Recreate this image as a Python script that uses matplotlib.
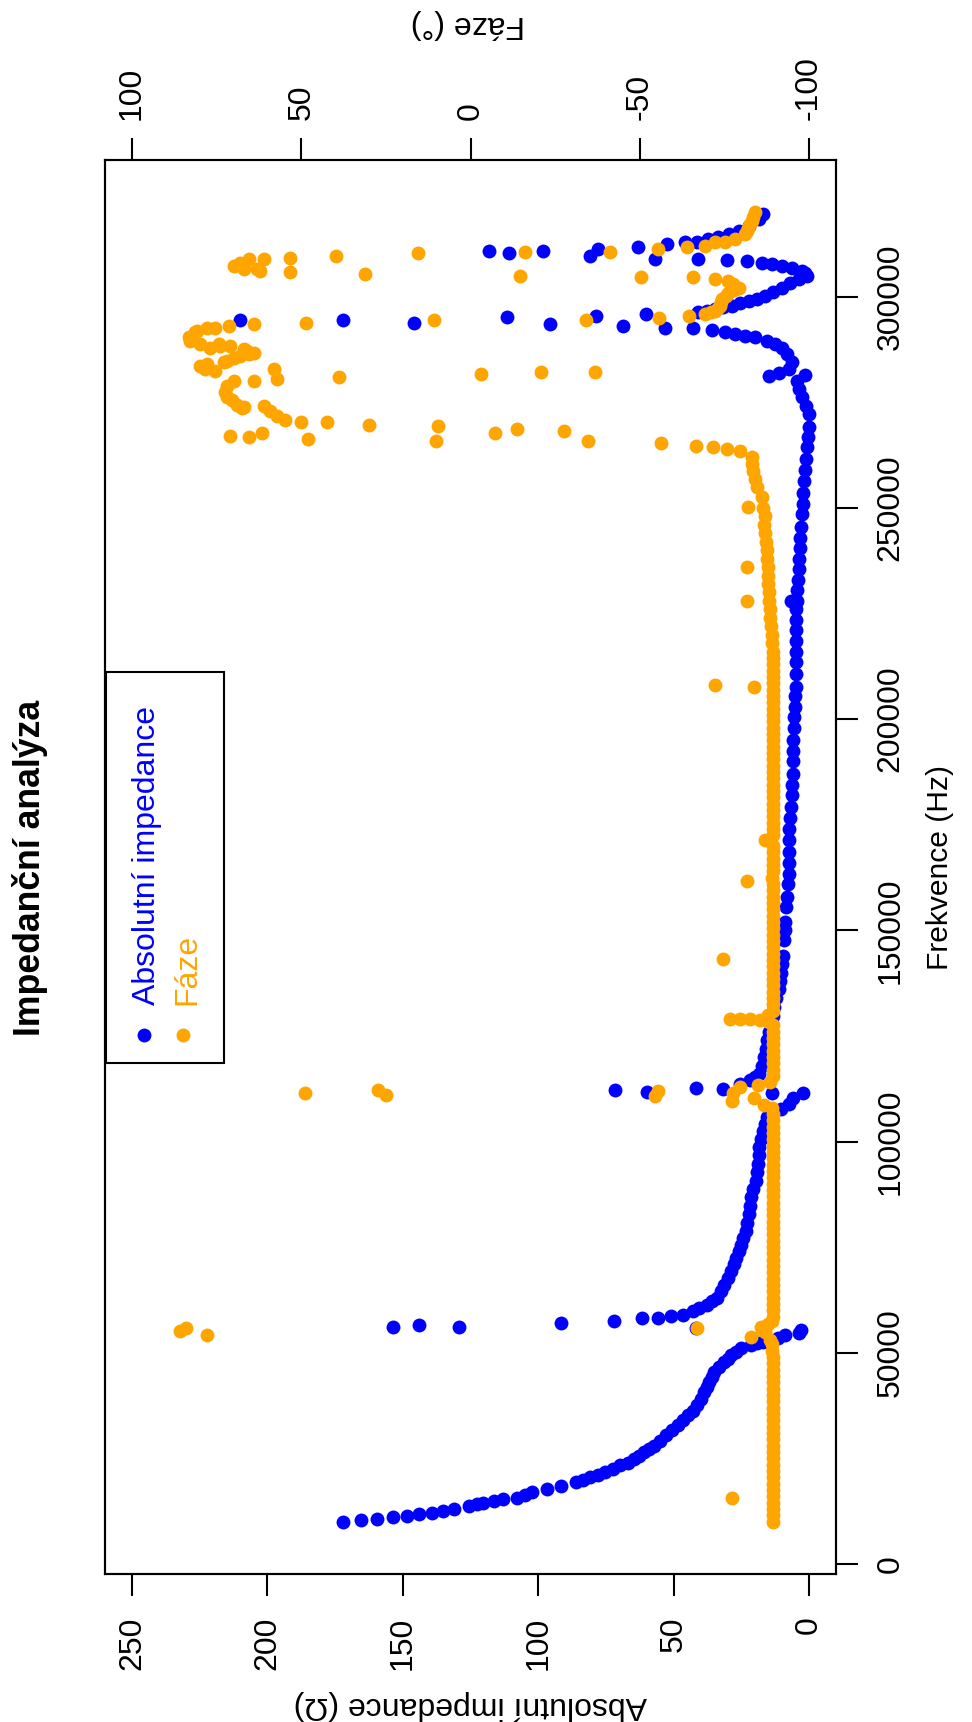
import matplotlib
matplotlib.use("Agg")
import matplotlib.pyplot as plt
from matplotlib.patches import Rectangle
from matplotlib.lines import Line2D

plt.rcParams['font.family'] = ['Liberation Sans', 'DejaVu Sans']

# Absolutní impedance: frekvence (Hz) a hodnota (Ohm)
freq_abs = [
    10000, 10400, 10700, 11000, 11350, 11750, 12150, 12600, 13000, 13600,
    14100, 14500, 15000, 15300, 15700, 16300, 16900, 17700, 18500, 19300,
    19900, 20500, 21100, 21700, 22500, 23300, 24000, 24800, 25600, 26400,
    27200, 28000, 29200, 30400, 31600, 32800, 34000, 35200, 36300, 37500,
    39000, 40700, 41900, 43100, 44300, 45500, 46700, 47900, 48600, 49400,
    50200, 51000, 51800, 52300, 52600, 53000, 53500, 54200, 54600, 55300,
    55800, 56200, 56600, 56200, 57100, 57600, 58200, 58300, 58600, 59000,
    59800, 60500, 61400, 62200, 62900, 64500, 66100, 67700, 69300, 71000,
    72500, 74000, 75600, 77200, 78800, 80800, 82800, 84800, 86800, 88800,
    90700, 92700, 94700, 96700, 98700, 100700, 102600, 104200, 105800, 107000,
    107800, 109000, 110200, 111400, 111400, 112100, 111700, 112700, 112500, 113700,
    114500, 115300, 116100, 118000, 120000, 122000, 124000, 126000, 128000, 129700,
    131900, 134000, 136000, 138000, 139800, 142000, 144000, 147600, 150000, 152000,
    155500, 158000, 161000, 163400, 166000, 168500, 171300, 174000, 176500, 179200,
    182000, 184500, 187100, 190000, 192500, 195000, 198000, 200500, 202800, 205500,
    207600, 210700, 213500, 216000, 218600, 221000, 223500, 226000, 228100, 228100,
    230500, 233000, 235500, 238000, 240500, 243000, 245400, 248600, 251000, 253500,
    256500, 259000, 261500, 264400, 266800, 269100, 272300, 274200, 276200, 278200,
    280100, 281600, 281300, 281900, 282900, 284500, 286500, 288000, 288800, 289600,
    290400, 290800, 291200, 291600, 292100, 292700, 292700, 293100, 293500, 293900,
    294500, 294500, 295200, 295500, 295900, 296300, 296700, 297100, 297500, 297900,
    298500, 299100, 299600, 300200, 301200, 302200, 303200, 304200, 305000, 305600,
    306200, 306800, 307300, 307700, 308100, 308500, 308800, 308900, 308900, 309700,
    310300, 310900, 310900, 311300, 311700, 312500, 312900, 313000, 313700, 314200,
    314800, 315600, 316800, 318400, 319600,
]
abs_imp = [
    172.0, 165.5, 159.6, 153.7, 148.3, 144.0, 139.3, 135.0, 131.0, 125.5,
    122.5, 120.2, 116.5, 113.0, 108.0, 105.0, 102.2, 96.8, 91.5, 86.1,
    83.4, 80.7, 78.0, 75.3, 72.5, 69.9, 67.0, 64.6, 62.8, 61.0,
    59.2, 57.4, 55.0, 52.9, 50.6, 48.4, 46.6, 44.8, 43.0, 41.2,
    40.0, 38.6, 37.7, 36.8, 35.9, 35.0, 33.2, 31.4, 30.0, 28.7,
    27.0, 25.1, 21.5, 19.0, 17.0, 14.3, 11.5, 9.0, 3.6, 3.0,
    41.7, 153.7, 144.0, 129.1, 91.5, 72.1, 61.5, 55.6, 51.1, 46.6,
    43.0, 40.5, 37.7, 35.8, 34.1, 32.5, 31.4, 30.0, 28.7, 27.6,
    26.8, 26.0, 25.0, 24.2, 23.3, 22.8, 22.3, 21.9, 21.5, 20.6,
    19.7, 19.3, 18.9, 18.6, 18.3, 17.7, 17.0, 16.3, 15.6, 14.0,
    10.2, 7.5, 5.7, 2.1, 13.8, 71.5, 59.8, 41.8, 31.9, 25.6,
    21.9, 20.0, 18.3, 17.4, 16.5, 16.0, 15.6, 14.8, 14.0, 13.2,
    12.9, 12.0, 11.0, 10.5, 10.2, 9.8, 9.5, 9.3, 9.0, 8.8,
    8.4, 8.0, 7.7, 7.5, 7.5, 7.5, 7.5, 7.2, 6.9, 6.6,
    6.4, 6.2, 6.0, 5.9, 5.8, 5.7, 5.5, 5.4, 5.3, 5.1,
    4.8, 4.8, 4.8, 4.8, 4.8, 4.8, 4.7, 4.6, 4.5, 6.5,
    4.3, 4.0, 3.8, 3.6, 3.4, 3.2, 3.0, 2.4, 2.3, 2.2,
    2.0, 1.6, 1.2, 0.7, 0.3, 0.0, 0.1, 1.2, 2.6, 3.5,
    4.4, 1.4, 14.9, 11.2, 7.5, 6.3, 8.1, 10.0, 12.5, 15.6,
    19.9, 23.6, 27.3, 31.0, 35.9, 42.7, 53.2, 68.6, 95.8, 145.8,
    172.1, 210.2, 111.5, 78.5, 60.0, 40.9, 37.8, 34.7, 31.6, 28.5,
    25.4, 22.3, 19.2, 16.2, 13.1, 10.0, 6.9, 3.8, 0.7, 1.5,
    2.6, 6.3, 10.0, 13.7, 17.4, 23.0, 30.4, 40.9, 56.9, 81.0,
    110.6, 118.0, 98.3, 77.9, 63.1, 52.6, 45.8, 41.5, 37.1, 33.4,
    29.7, 26.0, 22.3, 18.6, 16.8,
]

# Fáze: frekvence (Hz) a úhel (stupně)
freq_faze = [
    10000, 11500, 13000, 14500, 15500, 16000, 17500, 19000, 20500, 22000,
    23500, 25000, 26500, 28000, 29500, 31000, 32500, 34000, 35500, 37000,
    38500, 40000, 41500, 43000, 44500, 46000, 47500, 49000, 50500, 52000,
    53000, 53800, 54300, 54800, 55200, 55400, 55800, 55800, 56100, 56800,
    57500, 58500, 60000, 61500, 63000, 64500, 66000, 67500, 69000, 70500,
    72000, 73500, 75000, 76500, 78000, 79500, 81000, 82500, 84000, 85500,
    87000, 88500, 90000, 91500, 93000, 94500, 96000, 97500, 99000, 100500,
    102000, 103500, 105000, 106500, 108000, 108600, 109700, 110200, 110700, 111000,
    111400, 111400, 112000, 112100, 112900, 113500, 114000, 115500, 117000, 118500,
    120000, 121500, 123000, 124500, 126000, 127500, 128300, 128700, 129000, 129100,
    129100, 129900, 131000, 132500, 134000, 135500, 137000, 138500, 140000, 141500,
    143000, 143300, 144500, 146000, 147500, 149000, 150500, 152000, 153500, 155000,
    156500, 158000, 159500, 161000, 161800, 162500, 164000, 165500, 167000, 168500,
    170000, 171300, 172500, 174000, 175500, 177000, 178500, 180000, 181500, 183000,
    184500, 186000, 187500, 189000, 190500, 192000, 193500, 195000, 196500, 198000,
    199500, 201000, 202500, 204000, 205500, 207000, 207600, 208000, 208500, 210000,
    211500, 213000, 214500, 216000, 218000, 220000, 222000, 224000, 226000, 228000,
    228100, 230000, 232000, 234000, 236000, 236000, 238000, 240000, 242000, 244000,
    246000, 248000, 250000, 250200, 252500, 254900, 256800, 258800, 260500, 262000,
    263600, 264000, 264400, 264800, 265300, 265800, 265900, 266300, 266700, 267100,
    267800, 267800, 268300, 268700, 269300, 269600, 270300, 270300, 270800, 271900,
    273000, 273600, 273800, 274200, 274400, 275500, 276300, 277500, 279000, 280100,
    280100, 280500, 281100, 281700, 282100, 282100, 282500, 282900, 282900, 283700,
    284100, 284500, 284900, 285600, 286000, 286400, 286800, 287200, 287600, 288000,
    288400, 288400, 288800, 288800, 289600, 290400, 291600, 292000, 292700, 292700,
    293100, 293500, 293900, 294500, 294500, 295100, 295500, 295900, 296300, 296700,
    297300, 297900, 298700, 299500, 300300, 301000, 301600, 302200, 303000, 303800,
    304200, 304600, 304600, 305000, 305400, 305800, 306200, 306600, 306600, 307300,
    307700, 308100, 308900, 308900, 309300, 309700, 310300, 310700, 310700, 311300,
    311700, 312100, 312900, 313000, 313700, 314800, 315600, 316400, 317200, 318000,
    319000, 320000,
]
faze = [
    -89.4, -89.4, -89.3, -89.3, -77.2, -89.3, -89.3, -89.3, -89.3, -89.3,
    -89.3, -89.3, -89.3, -89.3, -89.3, -89.3, -89.3, -89.3, -89.3, -89.3,
    -89.3, -89.3, -89.3, -89.3, -89.3, -89.3, -89.3, -89.3, -89.2, -89.0,
    -88.5, -83.0, 77.9, -87.0, 85.8, -86.0, 84.0, -66.9, -85.8, -88.0,
    -89.0, -89.3, -89.3, -89.3, -89.3, -89.3, -89.3, -89.3, -89.3, -89.3,
    -89.3, -89.3, -89.3, -89.3, -89.3, -89.3, -89.3, -89.3, -89.3, -89.3,
    -89.3, -89.3, -89.3, -89.3, -89.3, -89.3, -89.3, -89.3, -89.3, -89.3,
    -89.3, -89.3, -89.3, -89.3, -89.0, -86.7, -77.4, -83.9, -54.5, 25.0,
    48.9, -77.7, -55.4, 27.2, -79.6, -85.0, -88.5, -89.3, -89.3, -89.3,
    -89.3, -89.3, -89.3, -89.3, -89.3, -89.3, -88.2, -85.4, -79.6, -76.7,
    -82.5, -88.0, -89.3, -89.3, -89.3, -89.3, -89.3, -89.3, -89.3, -89.3,
    -89.3, -74.5, -89.3, -89.3, -89.3, -89.3, -89.3, -89.3, -89.3, -89.3,
    -89.3, -89.3, -89.3, -89.3, -81.8, -89.0, -89.3, -89.3, -89.3, -89.3,
    -89.3, -87.0, -89.3, -89.3, -89.3, -89.3, -89.3, -89.3, -89.3, -89.3,
    -89.3, -89.3, -89.3, -89.3, -89.3, -89.3, -89.3, -89.3, -89.3, -89.3,
    -89.3, -89.3, -89.3, -89.3, -89.3, -89.3, -83.9, -72.1, -89.3, -89.4,
    -89.5, -89.5, -89.5, -89.3, -89.2, -89.0, -88.8, -88.6, -88.5, -88.3,
    -81.8, -88.2, -88.0, -87.9, -87.8, -81.8, -87.6, -87.5, -87.2, -87.0,
    -86.8, -87.0, -86.5, -82.1, -86.1, -84.6, -84.2, -83.6, -83.3, -83.1,
    -79.6, -75.8, -71.8, -66.5, -56.2, -34.7, 10.2, 48.0, 65.5, 71.0,
    61.6, -7.1, -27.6, -13.8, 9.7, 30.0, 42.3, 50.2, 54.7, 57.1,
    59.1, 67.5, 67.0, 61.1, 69.0, 70.5, 71.9, 72.4, 71.9, 70.0,
    64.0, 57.1, 38.9, -3.1, -20.9, -36.8, 75.4, 58.1, 78.4, 79.9,
    77.9, 72.9, 71.9, 70.0, 68.0, 65.5, 64.0, 66.0, 67.0, 76.9,
    73.9, 71.0, 79.9, 74.4, 82.8, 83.3, 81.3, 80.8, 77.9, 75.4,
    71.5, 64.0, 48.5, 10.7, -34.2, -55.8, -64.5, -69.3, -71.0, -72.2,
    -73.0, -73.7, -74.0, -74.2, -75.5, -76.2, -78.0, -79.2, -77.5, -76.2,
    -72.2, -65.8, -50.3, -14.5, 31.2, 53.2, 62.1, 63.1, 67.0, 70.0,
    68.0, 68.0, 65.5, 61.1, 53.2, 39.6, 15.6, -16.1, -41.2, -55.5,
    -64.1, -69.3, -72.2, -75.2, -78.2, -81.2, -81.7, -82.1, -82.6, -83.1,
    -83.6, -84.1,
]

imp_ticks = [0, 50, 100, 150, 200, 250]
faze_ticks = [-100, -50, 0, 50, 100]
freq_ticks = [0, 50000, 100000, 150000, 200000, 250000, 300000]

# obrazek je otoceny: frekvence jde svisle, impedance dole, faze nahore
W, H = 972, 1722
fig = plt.figure(figsize=(W / 100, H / 100), dpi=100)


def fx(px):
    return px / W


def fy(py):
    return 1 - py / H


box_l, box_r, box_t, box_b = 105, 836, 160, 1574
ax = fig.add_axes([fx(box_l), fy(box_b), (box_r - box_l) / W, (box_b - box_t) / H])

FS = 23
TICK_LEN = 15.6
LW = 1.5

ax.scatter(abs_imp, freq_abs, s=100, color='#0000FF', linewidths=0)
ax.set_xlim(260, -10)
ax.set_ylim(-2400, 332400)
ax.set_xticks(imp_ticks, labels=[str(t) for t in imp_ticks])
ax.set_yticks(freq_ticks, labels=[str(t) for t in freq_ticks])
ax.yaxis.tick_right()
ax.tick_params(axis='x', bottom=True, length=TICK_LEN, width=LW, pad=15,
               labelsize=FS, labelrotation=90)
ax.tick_params(axis='y', right=True, left=False, labelright=True, labelleft=False,
               length=TICK_LEN, width=LW, pad=13, labelsize=FS, labelrotation=90)
for lbl in ax.get_yticklabels():
    lbl.set_va('center')
for sp in ax.spines.values():
    sp.set_linewidth(LW)

ax2 = ax.twiny()
ax2.scatter(faze, freq_faze, s=100, color='#FFA500', linewidths=0)
ax2.set_xlim(108, -108)
ax2.set_xticks(faze_ticks, labels=[str(t) for t in faze_ticks])
ax2.tick_params(axis='x', top=True, length=TICK_LEN, width=LW, pad=13,
                labelsize=FS, labelrotation=90)
for sp in ax2.spines.values():
    sp.set_linewidth(LW)

# popisky os a nadpis
fig.text(fx(30), fy(868), 'Impedanční analýza', rotation=90, ha='center', va='center',
         fontsize=25.7, fontweight='bold')
fig.text(fx(940), fy(867), 'Frekvence (Hz)', rotation=90, ha='center', va='center',
         fontsize=21.6)
fig.text(fx(470), fy(1705), 'Absolutní impedance (Ω)', rotation=180, ha='center',
         va='center', fontsize=FS)
fig.text(fx(468), fy(24), 'Fáze (°)', rotation=180, ha='center', va='center', fontsize=FS)

# legenda
fig.add_artist(Rectangle((fx(106), fy(1063)), (224 - 106) / W, (1063 - 672) / H,
                         transform=fig.transFigure, facecolor='white',
                         edgecolor='black', lw=LW, zorder=5))
fig.add_artist(Line2D([fx(144)], [fy(1035)], marker='o', ms=10, mew=0, color='#0000FF',
                      linestyle='none', transform=fig.transFigure, zorder=6))
fig.add_artist(Line2D([fx(183)], [fy(1035)], marker='o', ms=10, mew=0, color='#FFA500',
                      linestyle='none', transform=fig.transFigure, zorder=6))
fig.text(fx(147), fy(1005), 'Absolutní impedance', color='#0000FF', rotation=90,
         ha='center', va='bottom', fontsize=FS, zorder=6)
fig.text(fx(187), fy(1005), 'Fáze', color='#FFA500', rotation=90,
         ha='center', va='bottom', fontsize=FS, zorder=6)

fig.savefig('out.png', dpi=100)
